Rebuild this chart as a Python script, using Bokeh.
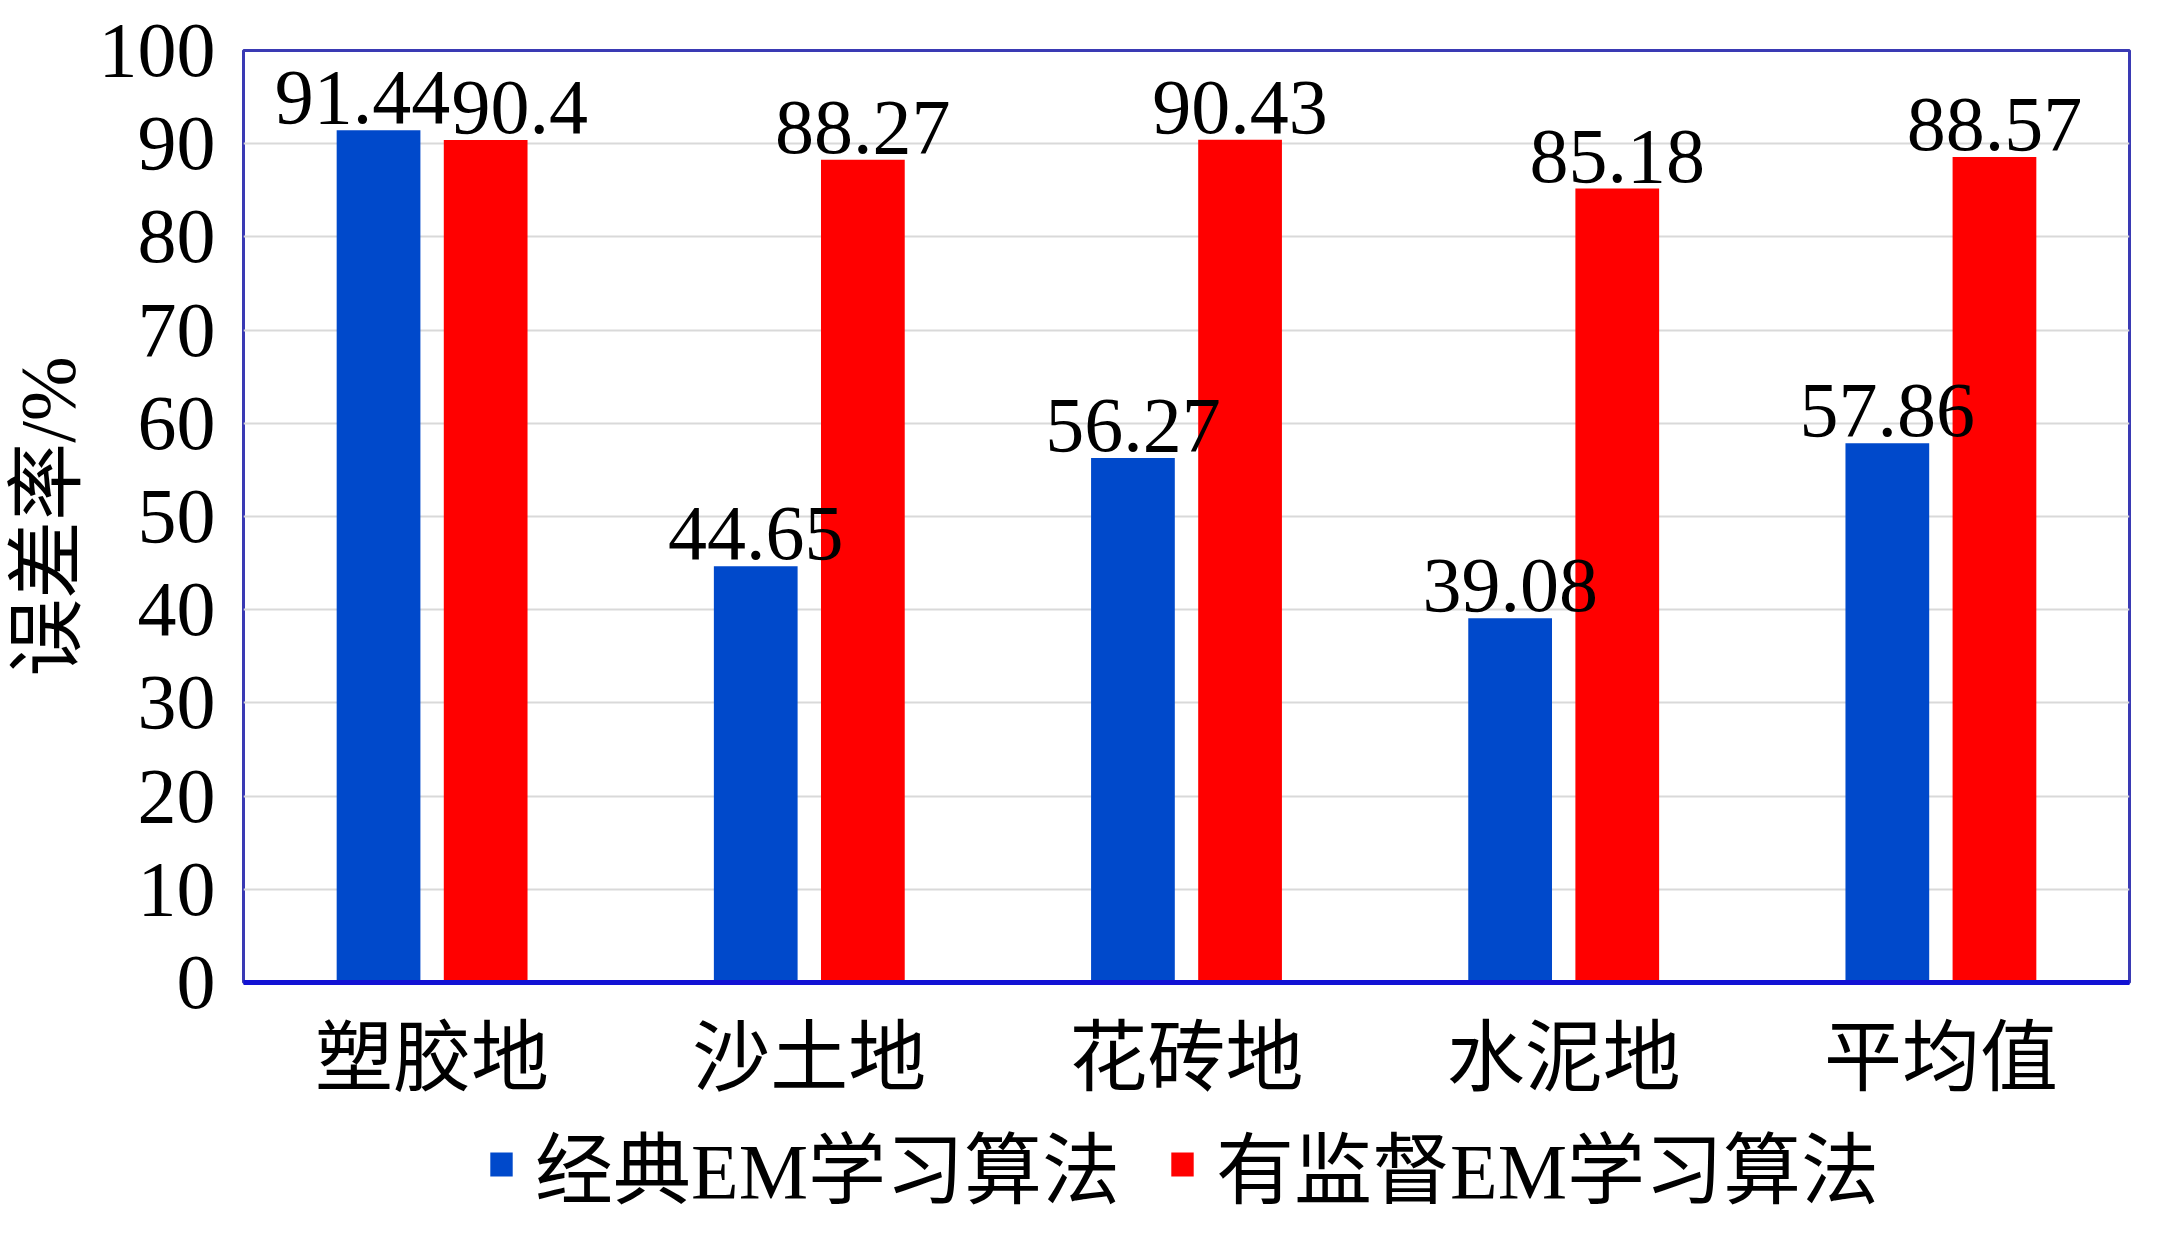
from bokeh.plotting import figure
from bokeh.models import ColumnDataSource, FactorRange, Legend, LegendItem, Range1d
from bokeh.layouts import column
from bokeh.transform import dodge
from bokeh.embed import file_html
from bokeh.resources import INLINE

# ---- data ----
categories = ["塑胶地", "沙土地", "花砖地", "水泥地", "平均值"]
classic_em = [91.44, 44.65, 56.27, 39.08, 57.86]
supervised_em = [90.4, 88.27, 90.43, 85.18, 88.57]
series_names = ["经典EM学习算法", "有监督EM学习算法"]
y_ticks = [0, 10, 20, 30, 40, 50, 60, 70, 80, 90, 100]
y_label = "误差率/%"

# ---- styles ----
BLUE = "#0049CB"
RED = "#FF0000"
FONT = "Liberation Serif, Noto Sans CJK SC"
FS = "78px"
label_dx_blue = [-16, 0, 0, 0, 0]
label_dx_red = [34, 0, 0, 0, 0]

src = ColumnDataSource(dict(
    cat=categories,
    classic=classic_em,
    supervised=supervised_em,
    classic_lbl=[str(v) for v in classic_em],
    supervised_lbl=[str(v) for v in supervised_em],
    dxb=label_dx_blue,
    dxr=label_dx_red,
))

W = 2148
H_MAIN = 1110
H_LEG = 118

p = figure(x_range=FactorRange(*categories), y_range=Range1d(0, 100),
           width=W, height=H_MAIN, output_backend="svg", toolbar_location=None,
           min_border_left=234, min_border_right=19, min_border_top=50,
           min_border_bottom=128)
p.x_range.range_padding = 0

off = 0.142
bw = 0.222
p.vbar(x=dodge("cat", -off, range=p.x_range), top="classic", width=bw,
       source=src, fill_color=BLUE, line_color=None)
p.vbar(x=dodge("cat", off, range=p.x_range), top="supervised", width=bw,
       source=src, fill_color=RED, line_color=None)

p.text(x=dodge("cat", -off, range=p.x_range), y="classic", text="classic_lbl",
       source=src, text_align="center", text_baseline="bottom",
       y_offset=-7, x_offset="dxb", text_font_size=FS, text_font={"value": FONT},
       text_color="black")
p.text(x=dodge("cat", off, range=p.x_range), y="supervised", text="supervised_lbl",
       source=src, text_align="center", text_baseline="bottom",
       y_offset=-7, x_offset="dxr", text_font_size=FS, text_font={"value": FONT},
       text_color="black")

# axes
p.xaxis.major_label_text_font_size = FS
p.xaxis.major_label_text_font = FONT
p.xaxis.major_label_text_color = "black"
p.xaxis.major_label_standoff = 26
p.xaxis.axis_line_color = "#1212D4"
p.xaxis.axis_line_width = 5
p.xaxis.major_tick_line_color = None
p.xaxis.minor_tick_line_color = None

p.yaxis.ticker = y_ticks
p.yaxis.major_label_text_font_size = FS
p.yaxis.major_label_text_font = FONT
p.yaxis.major_label_text_color = "black"
p.yaxis.major_label_standoff = 22
p.yaxis.axis_line_color = None
p.yaxis.major_tick_line_color = None
p.yaxis.minor_tick_line_color = None
p.yaxis.axis_label = y_label
p.yaxis.axis_label_text_font = FONT
p.yaxis.axis_label_text_font_size = FS
p.yaxis.axis_label_text_font_style = "normal"
p.yaxis.axis_label_text_color = "black"
p.yaxis.axis_label_standoff = 5

p.xgrid.grid_line_color = None
p.ygrid.grid_line_color = "#D9D9D9"
p.ygrid.grid_line_width = 2

p.outline_line_color = "#3A3AB4"
p.outline_line_width = 3
p.background_fill_color = "white"
p.border_fill_color = "white"

# ---- legend strip (its bars lie below its visible y range; only the legend shows) ----
lg = figure(width=W, height=H_LEG, x_range=p.x_range, y_range=Range1d(500, 501),
            output_backend="svg", toolbar_location=None,
            min_border_left=234, min_border_right=19, min_border_top=0,
            min_border_bottom=0)
lg.axis.visible = False
lg.grid.visible = False
lg.outline_line_color = None
g1 = lg.vbar(x=dodge("cat", -off, range=lg.x_range), top="classic", width=bw,
             source=src, fill_color=BLUE, line_color=None)
g2 = lg.vbar(x=dodge("cat", off, range=lg.x_range), top="supervised", width=bw,
             source=src, fill_color=RED, line_color=None)
legend = Legend(items=[LegendItem(label=series_names[0], renderers=[g1]),
                       LegendItem(label=series_names[1], renderers=[g2])],
                orientation="horizontal", location=(244, 8),
                glyph_width=28, glyph_height=30, label_standoff=20, spacing=48,
                padding=0, margin=0, border_line_color=None,
                background_fill_alpha=0,
                label_text_font_size=FS, label_text_font=FONT,
                label_text_color="black")
lg.add_layout(legend, "center")

layout = column(p, lg)
open("out.html", "w").write(file_html(layout, INLINE))
